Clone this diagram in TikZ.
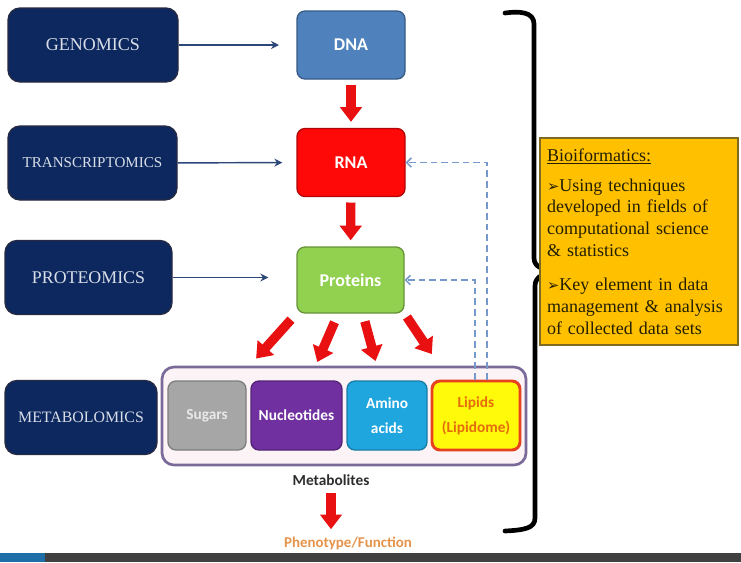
\documentclass[tikz,border=0pt]{standalone}
\usepackage{fontspec}
\setmainfont{Liberation Serif}
\newfontfamily\calfont{Carlito}
\newfontfamily\symfont{DejaVu Sans}
\usepackage{tikz}
\usetikzlibrary{arrows.meta, calc}

\definecolor{omicsnavy}{RGB}{12,40,95}
\definecolor{omicsedge}{RGB}{38,42,66}
\definecolor{omicstext}{RGB}{216,221,231}
\definecolor{dnablue}{RGB}{79,129,189}
\definecolor{rnared}{RGB}{255,8,8}
\definecolor{protgreen}{RGB}{146,208,80}
\definecolor{sugargray}{RGB}{166,166,166}
\definecolor{nucpurple}{RGB}{112,48,160}
\definecolor{aminocyan}{RGB}{32,166,222}
\definecolor{lipidyellow}{RGB}{255,250,10}
\definecolor{lipidedge}{RGB}{232,65,30}
\definecolor{lipidtext}{RGB}{228,108,10}
\definecolor{poolfill}{RGB}{251,243,245}
\definecolor{pooledge}{RGB}{122,106,154}
\definecolor{arrowred}{RGB}{232,16,16}
\definecolor{linkblue}{RGB}{44,72,120}
\definecolor{dashblue}{RGB}{118,152,202}
\definecolor{phenoorange}{RGB}{229,147,74}
\definecolor{infofill}{RGB}{255,192,0}
\definecolor{infoedge}{RGB}{127,106,32}
\definecolor{infotext}{RGB}{35,31,0}
\definecolor{stripgray}{RGB}{64,64,64}
\definecolor{stripblue}{RGB}{30,111,168}

\newcommand\arrowbullet{{\symfont\fontsize{11}{11}\selectfont ➢}}

\begin{document}
\begin{tikzpicture}[x=0.75pt,y=0.75pt,yscale=-1,
  omicsbox/.style={draw=omicsedge, line width=1pt, fill=omicsnavy, rounded corners=9pt,
    text=omicstext, minimum height=55.5pt},
  molbox/.style={draw=#1!70!black, line width=1pt, fill=#1, rounded corners=6pt,
    text=white, font=\calfont\bfseries\fontsize{13.5}{15}\selectfont,
    minimum width=81pt, minimum height=51pt},
  metbox/.style={draw=#1!75!black, line width=1pt, fill=#1, rounded corners=6pt,
    text=white, font=\calfont\bfseries\fontsize{11.5}{18.5}\selectfont,
    minimum height=51.75pt, align=center},
  redarrow/.style={draw=arrowred, line width=7pt,
    -{Triangle[width=16pt,length=11pt]}},
  bluearrow/.style={draw=linkblue, line width=1.1pt, -{Stealth[length=6pt,width=6pt]}},
  dashline/.style={draw=dashblue, line width=1.1pt, dash pattern=on 5pt off 3pt,
    -{Straight Barb[length=3.5pt,width=7pt]}}]

\useasboundingbox (0,0) rectangle (741,562);

%Shape: strip along the bottom
\fill[stripgray] (0,553) rectangle (741,562);
\fill[stripblue] (0,553) rectangle (45,562);

%Shape: omics boxes on the left
\node[omicsbox, minimum width=127.5pt, font=\fontsize{13.5}{16}\selectfont] (genomics) at (93,45) {GENOMICS};
\node[omicsbox, minimum width=126.75pt, font=\fontsize{11.3}{14}\selectfont] (transcriptomics) at (92.5,163) {TRANSCRIPTOMICS};
\node[omicsbox, minimum width=125.25pt, font=\fontsize{13.4}{16}\selectfont] (proteomics) at (88.5,277.5) {PROTEOMICS};
\node[omicsbox, minimum width=114pt, font=\fontsize{11.9}{14}\selectfont] (metabolomics) at (81,417.5) {METABOLOMICS};

%Shape: central dogma boxes
\node[molbox=dnablue] (dna) at (351,45) {DNA};
\node[molbox=rnared] (rna) at (351,162.5) {RNA};
\node[molbox=protgreen, minimum width=80.25pt, minimum height=49.5pt] (proteins) at (350.5,280) {Proteins};

%Shape: metabolite pool
\node[draw=pooledge, line width=2pt, fill=poolfill, rounded corners=9pt,
  minimum width=273pt, minimum height=73.5pt] (pool) at (344,416) {};
\node[metbox=sugargray, minimum width=58.5pt, text={rgb,255:red,232;green,232;blue,232}] (sugars) at (207,415.5) {Sugars};
\node[metbox=nucpurple, minimum width=68.25pt] (nucleotides) at (296.5,415.5) {Nucleotides};
\node[metbox=aminocyan, minimum width=60pt] (amino) at (387,415.5) {Amino\\acids};
\node[metbox=lipidyellow, draw=lipidedge, line width=2.2pt, minimum width=66pt,
  text=lipidtext] (lipids) at (476,415.5) {Lipids\\(Lipidome)};

% Text Node
\node[font=\calfont\bfseries\fontsize{11.5}{14}\selectfont, text={rgb,255:red,45;green,45;blue,45}] (metlabel) at (331,480) {Metabolites};
% Text Node
\node[font=\calfont\bfseries\fontsize{11.2}{14}\selectfont, text=phenoorange] (phenolabel) at (348,543) {Phenotype/Function};

%Arrows: omics to molecules
\draw[bluearrow, shorten >=13pt] (genomics) -- (dna);
\draw[bluearrow, shorten >=10.5pt] (transcriptomics) -- (rna);
\draw[bluearrow, shorten >=21pt] (proteomics.east) -- (proteomics.east -| proteins.west);

%Arrows: red flow
\draw[redarrow, shorten <=4pt, shorten >=4.5pt] (dna) -- (rna);
\draw[redarrow, shorten <=4pt, shorten >=4.5pt] (rna) -- (proteins);
\draw[redarrow, shorten <=6pt, shorten >=22pt] (proteins.south west) -- (sugars.50);
\draw[redarrow, shorten <=7pt, shorten >=15pt] (proteins.-110) -- (nucleotides.70);
\draw[redarrow, shorten <=6pt, shorten >=15pt] (proteins.-70) -- (amino.100);
\draw[redarrow, shorten <=3pt, shorten >=23pt] (proteins.south east) -- (lipids.127);
\draw[redarrow, shorten <=2pt, shorten >=2pt] (metlabel.south) -- (metlabel.south |- phenolabel.north);

%Arrows: dashed feedback from lipids
\draw[dashline] ($(lipids.north)+(-1,0)$) |- (proteins.east);
\draw[dashline] ($(lipids.north)+(11,0)$) |- (rna.east);

%Shape: bracket
\draw[line width=3.5pt, line join=round, line cap=round]
  (505,13) .. controls (520,11) and (534,12) .. (534,24) -- (534,258)
  .. controls (534,268) and (545,271) .. (561,271)
  .. controls (545,272) and (535,276) .. (535,286) -- (535,518)
  .. controls (535,528) and (525,530) .. (505,531);

%Shape: bioinformatics box
\node[draw=infoedge, line width=1pt, fill=infofill, text=infotext,
  minimum width=148.5pt, minimum height=155.25pt, inner xsep=5pt,
  text width=138pt, align=left, font=\fontsize{13.5}{16.4}\selectfont] (bioinfo) at (639,241.5)
  {\underline{Bioiformatics:}\\[6pt]
   \arrowbullet Using techniques\\
   developed in fields of\\
   computational science\\
   \& statistics\\[9pt]
   \arrowbullet Key element in data\\
   management \& analysis\\
   of collected data sets};

\end{tikzpicture}
\end{document}
